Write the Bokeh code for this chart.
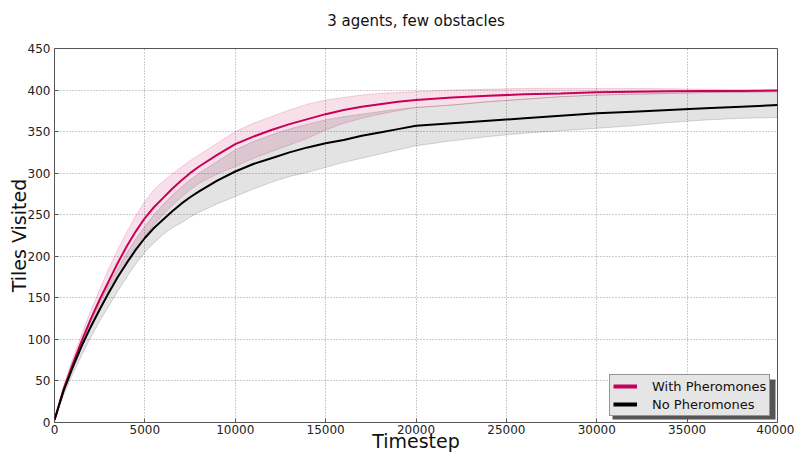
import math
from bokeh.plotting import figure
from bokeh.models import Range1d, FixedTicker, Legend, LegendItem, BoxAnnotation, Title
from bokeh.embed import file_html
from bokeh.resources import INLINE

# ---- data ----
timesteps = [0, 500, 1000, 1500, 2000, 2500, 3000, 3500, 4000, 4500,
             5000, 5500, 6000, 6500, 7000, 7500, 8000, 9000, 10000, 11000,
             12000, 13000, 14000, 15000, 16000, 17000, 18000, 19000, 20000, 22000,
             24000, 26000, 28000, 30000, 32000, 34000, 36000, 38000, 40000]

with_mean = [3, 40, 70, 98, 124, 148, 170, 192, 212, 230,
             246, 259, 270, 281, 291, 300, 308, 322, 335, 344,
             352, 359, 365, 371, 376, 380, 383, 386, 388, 391,
             393, 395, 396, 397.5, 398, 398.5, 399, 399, 399.5]
with_hi = [3, 44, 76, 106, 134, 160, 185, 208, 229, 249,
           266, 280, 290, 299, 307, 315, 322, 336, 350, 360,
           368, 376, 383, 388, 391, 394, 396, 397, 398, 400,
           401, 402, 402, 402, 402, 401.5, 401, 400.5, 400.5]
with_lo = [3, 36, 64, 90, 113, 135, 155, 174, 192, 208,
           224, 238, 250, 261, 271, 280, 288, 299, 308, 318,
           326, 334, 342, 352, 360, 366, 371, 375, 379, 382,
           386, 389, 392, 394, 395, 396, 397, 397.5, 398]

no_mean = [3, 38, 66, 92, 115, 136, 156, 175, 192, 208,
           222, 234, 244, 254, 263, 271, 278, 291, 302, 311,
           318, 325, 331, 336, 340, 345, 349, 353, 357, 360,
           363, 366, 369, 372, 374, 376, 378, 380, 382]
no_hi = [3, 40, 70, 97, 121, 144, 165, 185, 204, 221,
         236, 250, 262, 273, 283, 292, 300, 314, 328, 338,
         346, 353, 359, 364, 368, 371, 374, 377, 379, 382,
         386, 389, 392, 394, 395, 396, 397, 397.5, 398]
no_lo = [3, 33, 58, 81, 102, 122, 140, 158, 175, 191,
         205, 216, 226, 234, 240, 247, 253, 263, 272, 281,
         289, 296, 301, 307, 313, 318, 323, 328, 333, 339,
         344, 348, 351, 354, 357, 361, 364, 366, 367]

x_ticks = [0, 5000, 10000, 15000, 20000, 25000, 30000, 35000, 40000]
y_ticks = [0, 50, 100, 150, 200, 250, 300, 350, 400, 450]

series_names = ["With Pheromones", "No Pheromones"]
title_text = "3 agents, few obstacles"
x_label = "Timestep"
y_label = "Tiles Visited"

MAG = "#c8005a"
BLK = "#000000"
FONT = "DejaVu Sans"

p = figure(width=794, height=454, output_backend="svg", toolbar_location=None,
           x_range=Range1d(0, 40000), y_range=Range1d(0, 450),
           min_border_left=54, min_border_right=17, min_border_top=48, min_border_bottom=32,
           title=title_text)
p.background_fill_color = "white"
p.border_fill_color = "white"
p.outline_line_color = "#555555"
p.outline_line_width = 1

p.title.align = "center"
p.title.text_font = FONT
p.title.text_font_size = "15px"
p.title.text_font_style = "normal"
p.title.text_color = "#111111"
p.title.standoff = 18

# empty spacer between the title and the frame
p.add_layout(Title(text=" ", text_font_size="1px", standoff=7), "above")

for ax, ticks in ((p.xaxis, x_ticks), (p.yaxis, y_ticks)):
    ax.ticker = FixedTicker(ticks=ticks)
    ax.axis_line_color = None
    ax.major_tick_in = 4
    ax.major_tick_out = 0
    ax.major_tick_line_color = "#555555"
    ax.minor_tick_line_color = None
    ax.major_label_text_font = FONT
    ax.major_label_text_font_size = "12px"
    ax.major_label_text_color = "#222222"
    ax.axis_label_text_font = FONT
    ax.axis_label_text_font_size = "19px"
    ax.axis_label_text_font_style = "normal"
    ax.axis_label_text_color = "#111111"
p.xaxis.major_label_standoff = 2
p.yaxis.major_label_standoff = 4
p.xaxis.axis_label = x_label
p.yaxis.axis_label = y_label
p.xaxis.axis_label_standoff = -7
p.yaxis.axis_label_standoff = -5

p.grid.grid_line_color = "#9a9a9a"
p.grid.grid_line_dash = "1 2"
p.grid.grid_line_width = 1

# bands
p.varea(x=timesteps, y1=with_lo, y2=with_hi, fill_color=MAG, fill_alpha=0.12)
p.line(timesteps, with_hi, line_color=MAG, line_alpha=0.18, line_width=1)
p.line(timesteps, with_lo, line_color=MAG, line_alpha=0.18, line_width=1)
p.varea(x=timesteps, y1=no_lo, y2=no_hi, fill_color=BLK, fill_alpha=0.11)
p.line(timesteps, no_hi, line_color=BLK, line_alpha=0.15, line_width=1)
p.line(timesteps, no_lo, line_color=BLK, line_alpha=0.15, line_width=1)

# mean lines
r_with = p.line(timesteps, with_mean, line_color=MAG, line_width=2)
r_no = p.line(timesteps, no_mean, line_color=BLK, line_width=2)

# legend proxies (thicker lines, drawn outside the visible range)
r1 = p.line([-2000, -1000], [-50, -50], line_color=MAG, line_width=4)
r2 = p.line([-2000, -1000], [-50, -50], line_color=BLK, line_width=4)

shadow = BoxAnnotation(left=558, right=721, bottom=3, top=43,
                       left_units="screen", right_units="screen",
                       bottom_units="screen", top_units="screen",
                       fill_color="#555555", fill_alpha=1.0, line_color=None)
p.add_layout(shadow)

legend = Legend(items=[LegendItem(label=series_names[0], renderers=[r1]),
                       LegendItem(label=series_names[1], renderers=[r2])],
                location=(555, 6))
legend.background_fill_color = "#e5e5e5"
legend.background_fill_alpha = 1.0
legend.border_line_color = "#444444"
legend.border_line_width = 1
legend.label_text_font = FONT
legend.label_text_font_size = "13px"
legend.label_text_color = "#111111"
legend.glyph_width = 24
legend.glyph_height = 16
legend.label_height = 16
legend.label_standoff = 15
legend.padding = 3
legend.spacing = 2
legend.margin = 0
p.add_layout(legend)

open("out.html", "w").write(file_html(p, INLINE))
